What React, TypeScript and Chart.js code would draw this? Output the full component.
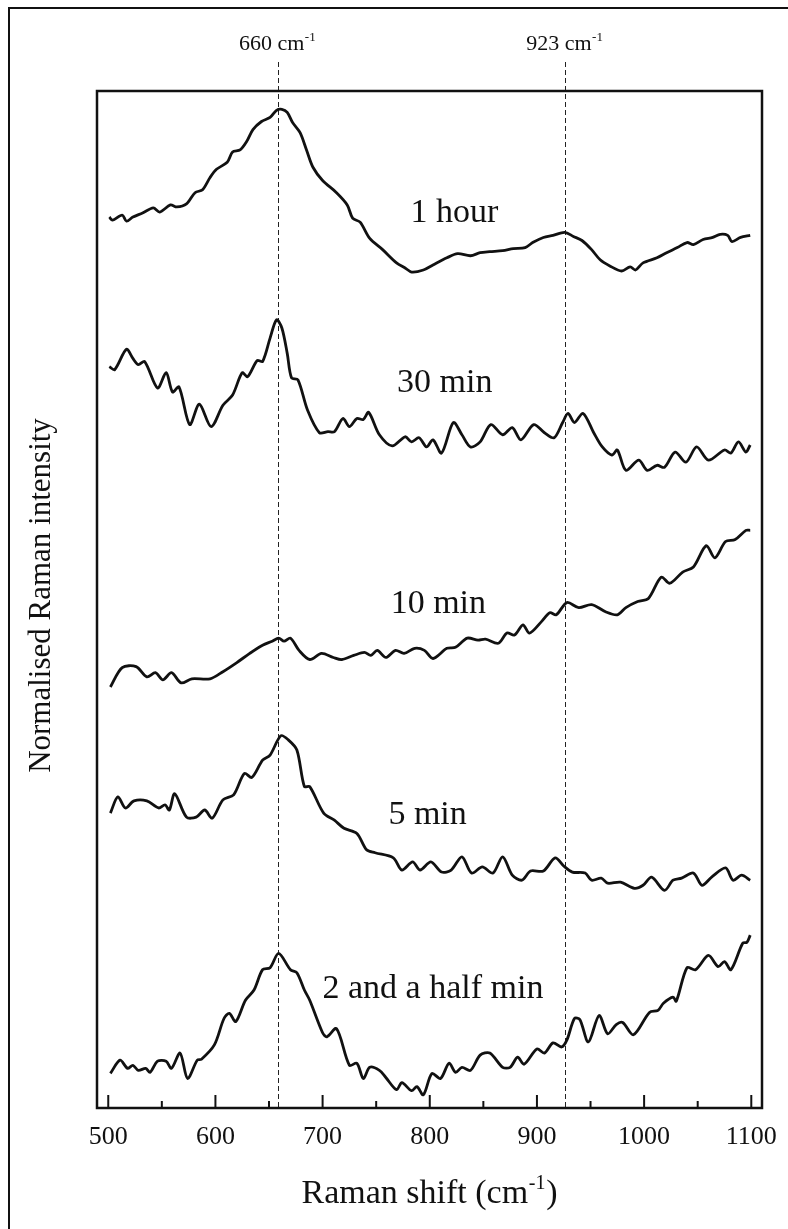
import React, { useEffect, useRef } from "react";
import { Chart, registerables } from "chart.js";

Chart.register(...registerables);

// ---------- axis / annotation values ----------
const X_MIN = 489.5;
const X_MAX = 1110;
const Y_MIN = 0;
const Y_MAX = 100;
const MAJOR_TICKS = [500, 600, 700, 800, 900, 1000, 1100];
const MINOR_TICKS = [550, 650, 750, 850, 950, 1050];
const PEAK_LINES = [658, 926];
const PEAK_LABELS = ["660", "923"];

const SERIES_NAMES = ["1 hour", "30 min", "10 min", "5 min", "2 and a half min"];
const NAME_X = [823, 814, 808, 798, 803];
const NAME_Y = [87.1, 70.4, 48.7, 27.9, 10.8];

// ---------- spectra (Raman shift, normalised offset intensity) ----------
const X_1H = [501,504,513,517,523,532,542,548,558,564,573,581,588,595,601,611,616,623,629,635,643,651,657,662,667,672,679,685,691,700,713,723,728,735,744,756,769,777,783,794,803,816,826,838,847,856,868,878,889,896,906,915,926,934,942,951,959,968,979,987,992,999,1012,1021,1031,1040,1046,1055,1064,1071,1078,1082,1090,1099];
const Y_1H = [87.6,87.3,87.8,87.2,87.6,88.0,88.5,88.1,88.8,88.6,88.9,90.0,90.3,91.5,92.3,93.0,94.0,94.2,95.0,96.2,97.0,97.4,98.1,98.2,97.9,96.9,95.9,94.2,92.5,91.2,90.0,88.8,87.5,87.1,85.5,84.4,83.1,82.6,82.2,82.4,82.9,83.6,84.0,83.8,84.1,84.2,84.3,84.5,84.6,85.1,85.6,85.8,86.1,85.7,85.3,84.4,83.4,82.8,82.3,82.7,82.4,83.1,83.6,84.1,84.6,85.1,84.9,85.4,85.6,85.9,85.8,85.2,85.6,85.8];

const X_30 = [501,506,517,523,528,534,546,554,560,566,576,585,596,607,616,625,630,639,644,651,657,662,667,671,677,686,697,705,711,719,725,732,738,743,753,765,777,783,790,797,803,811,822,830,838,847,857,868,877,885,897,907,916,924,929,935,943,953,961,970,975,983,995,1003,1012,1019,1029,1039,1049,1060,1075,1081,1088,1095,1099];
const Y_30 = [72.9,72.6,74.6,73.7,73.1,73.4,70.8,72.3,70.4,70.9,67.2,69.2,67.0,69.1,70.1,72.3,71.9,73.5,73.4,75.7,77.5,76.7,74.2,71.8,71.6,68.6,66.4,66.5,66.5,67.8,67.0,67.8,67.7,68.4,66.2,65.1,66.0,65.5,65.9,65.0,65.7,64.4,67.4,66.2,65.0,65.5,67.2,66.2,66.9,65.7,67.2,66.4,65.9,67.4,68.3,67.4,68.3,66.4,65.0,64.2,64.7,62.7,63.7,62.7,63.2,63.0,64.5,63.5,65.0,63.7,64.7,64.4,65.5,64.5,65.2];

const X_10 = [502,513,526,536,544,551,559,568,578,595,607,620,632,644,653,659,664,670,678,688,699,710,718,729,739,745,751,759,768,776,786,795,803,816,824,835,845,852,864,872,879,887,893,904,912,918,928,939,951,964,975,983,994,1004,1016,1024,1036,1046,1058,1066,1076,1085,1095,1099];
const Y_10 = [41.4,43.3,43.4,42.4,42.8,42.1,42.8,41.8,42.2,42.2,42.9,43.8,44.7,45.5,45.9,46.2,45.9,46.2,45.0,44.1,44.7,44.3,44.1,44.5,44.8,44.5,45.0,44.3,45.0,44.7,45.2,45.0,44.2,45.2,45.3,46.2,46.0,46.1,45.7,46.7,46.5,47.5,46.7,47.8,48.7,48.5,49.7,49.2,49.5,48.8,48.5,49.2,49.8,50.1,52.2,51.6,52.7,53.2,55.3,54.1,55.7,55.9,56.8,56.8];

const X_5 = [502,509,516,524,536,547,553,557,562,573,582,590,597,607,617,627,634,644,651,661,668,676,683,688,701,711,720,732,741,749,766,774,784,791,801,811,820,830,839,849,859,868,877,886,894,906,917,925,933,945,951,960,966,978,991,999,1007,1019,1027,1035,1046,1054,1063,1076,1083,1091,1099];
const Y_5 = [29.0,30.6,29.5,30.2,30.2,29.5,29.8,29.3,30.9,28.6,28.6,29.3,28.5,30.3,30.8,32.9,32.5,34.2,34.7,36.6,36.2,35.2,31.6,31.6,29.0,28.3,27.5,27.0,25.4,25.1,24.6,23.4,24.2,23.4,24.2,23.2,23.4,24.7,23.1,23.7,23.1,24.7,22.9,22.4,23.3,23.3,24.6,23.8,23.2,23.1,22.4,22.6,22.1,22.2,21.6,21.9,22.7,21.4,22.4,22.6,23.1,21.9,22.7,23.6,22.4,22.9,22.4];

const X_25 = [502,511,518,523,528,535,539,546,554,559,567,574,583,587,599,608,613,619,628,636,644,651,659,670,676,683,688,700,704,713,725,732,738,744,753,759,769,774,783,788,794,802,810,818,824,830,838,847,856,868,875,882,888,900,907,915,923,928,935,940,948,958,966,974,980,990,1005,1013,1018,1027,1030,1040,1048,1060,1069,1075,1081,1092,1096,1099];
const Y_25 = [3.4,4.7,3.9,4.2,3.7,3.9,3.5,4.6,4.6,3.9,5.4,2.9,4.7,4.8,6.2,8.8,9.3,8.5,10.6,11.6,13.6,13.8,15.2,13.6,13.3,11.6,10.6,7.4,7.0,7.8,4.2,4.4,2.9,4.0,3.7,3.0,1.8,2.5,1.7,2.1,1.3,3.4,2.9,4.4,3.5,4.0,3.7,5.2,5.4,4.0,4.0,5.0,4.3,5.8,5.4,6.4,6.0,6.7,8.8,8.7,6.5,9.1,7.3,8.2,8.4,7.2,9.4,9.6,10.3,10.9,10.5,13.8,13.6,15.0,13.9,14.4,13.6,16.2,16.3,17.0];

const SERIES_X = [X_1H, X_30, X_10, X_5, X_25];
const SERIES_Y = [Y_1H, Y_30, Y_10, Y_5, Y_25];

const SERIF = '"Liberation Serif", "Times New Roman", Times, serif';

function pts(xs: number[], ys: number[]) {
  const n = Math.min(xs.length, ys.length);
  const out: { x: number; y: number }[] = [];
  for (let i = 0; i < n; i++) out.push({ x: xs[i], y: ys[i] });
  return out;
}

function drawSup(
  ctx: CanvasRenderingContext2D,
  base: string,
  sup: string,
  tail: string,
  cx: number,
  baseline: number,
  size: number
) {
  const supSize = Math.round(size * 0.6);
  ctx.font = `${size}px ${SERIF}`;
  const wb = ctx.measureText(base).width;
  const wt = ctx.measureText(tail).width;
  ctx.font = `${supSize}px ${SERIF}`;
  const ws = ctx.measureText(sup).width;
  const total = wb + ws + wt + size * 0.04;
  let x = cx - total / 2;
  ctx.textAlign = "left";
  ctx.textBaseline = "alphabetic";
  ctx.font = `${size}px ${SERIF}`;
  ctx.fillText(base, x, baseline);
  x += wb + size * 0.02;
  ctx.font = `${supSize}px ${SERIF}`;
  ctx.fillText(sup, x, baseline - size * 0.4);
  x += ws + size * 0.02;
  if (tail) {
    ctx.font = `${size}px ${SERIF}`;
    ctx.fillText(tail, x, baseline);
  }
}

const overlay = {
  id: "overlay",
  beforeDatasetsDraw(chart: any) {
    const { ctx, chartArea, scales } = chart;
    ctx.save();
    ctx.strokeStyle = "#222";
    ctx.lineWidth = 1;
    ctx.setLineDash([5, 3]);
    PEAK_LINES.forEach((v) => {
      const px = Math.round(scales.x.getPixelForValue(v)) + 0.5;
      ctx.beginPath();
      ctx.moveTo(px, chartArea.top - 29);
      ctx.lineTo(px, chartArea.bottom);
      ctx.stroke();
    });
    ctx.restore();
  },
  afterDatasetsDraw(chart: any) {
    const { ctx, chartArea, scales, width, height } = chart;
    const { left, right, top, bottom } = chartArea;
    ctx.save();
    ctx.fillStyle = "#111";
    ctx.strokeStyle = "#111";

    // outer figure frame
    ctx.lineWidth = 2;
    ctx.beginPath();
    ctx.moveTo(9, height);
    ctx.lineTo(9, 8);
    ctx.lineTo(width, 8);
    ctx.stroke();

    // plot box
    ctx.lineWidth = 2.5;
    ctx.strokeRect(left, top, right - left, bottom - top);

    // inward ticks
    ctx.lineWidth = 2;
    MAJOR_TICKS.forEach((v) => {
      const px = scales.x.getPixelForValue(v);
      ctx.beginPath();
      ctx.moveTo(px, bottom);
      ctx.lineTo(px, bottom - 13);
      ctx.stroke();
    });
    MINOR_TICKS.forEach((v) => {
      const px = scales.x.getPixelForValue(v);
      ctx.beginPath();
      ctx.moveTo(px, bottom);
      ctx.lineTo(px, bottom - 7);
      ctx.stroke();
    });

    // tick labels
    ctx.font = `26px ${SERIF}`;
    ctx.textAlign = "center";
    ctx.textBaseline = "alphabetic";
    MAJOR_TICKS.forEach((v) => {
      ctx.fillText(String(v), scales.x.getPixelForValue(v), bottom + 36);
    });

    // x title
    drawSup(ctx, "Raman shift (cm", "-1", ")", (left + right) / 2, bottom + 95, 34);

    // y title
    ctx.save();
    ctx.translate(42, (top + bottom) / 2 - 4);
    ctx.rotate(-Math.PI / 2);
    ctx.font = `31px ${SERIF}`;
    ctx.textAlign = "center";
    ctx.textBaseline = "middle";
    ctx.fillText("Normalised Raman intensity", 0, 0);
    ctx.restore();

    // peak labels
    PEAK_LINES.forEach((v, i) => {
      drawSup(ctx, PEAK_LABELS[i] + " cm", "-1", "", scales.x.getPixelForValue(v), top - 41, 22);
    });

    // series names
    ctx.font = `34px ${SERIF}`;
    ctx.textAlign = "center";
    ctx.textBaseline = "alphabetic";
    SERIES_NAMES.forEach((name, i) => {
      ctx.fillText(name, scales.x.getPixelForValue(NAME_X[i]), scales.y.getPixelForValue(NAME_Y[i]));
    });

    ctx.restore();
  },
};

export default function App() {
  const ref = useRef<HTMLCanvasElement | null>(null);

  useEffect(() => {
    document.body.style.margin = "0";
    const canvas = ref.current;
    if (!canvas) return;
    const chart = new Chart(canvas, {
      type: "line",
      data: {
        datasets: SERIES_NAMES.map((name, i) => ({
          label: name,
          data: pts(SERIES_X[i], SERIES_Y[i]),
          borderColor: "#111",
          borderWidth: 2.8,
          pointRadius: 0,
          tension: 0.3,
          fill: false,
        })),
      },
      options: {
        animation: false,
        responsive: false,
        devicePixelRatio: 1,
        layout: { padding: { left: 97, top: 91, right: 26, bottom: 121 } },
        plugins: { legend: { display: false }, tooltip: { enabled: false } },
        scales: {
          x: { type: "linear", min: X_MIN, max: X_MAX, display: false },
          y: { type: "linear", min: Y_MIN, max: Y_MAX, display: false },
        },
      },
      plugins: [overlay],
    });
    return () => chart.destroy();
  }, []);

  return (
    <div style={{ width: 788, height: 1229, background: "#fff" }}>
      <canvas ref={ref} width={788} height={1229} style={{ display: "block" }} />
    </div>
  );
}
